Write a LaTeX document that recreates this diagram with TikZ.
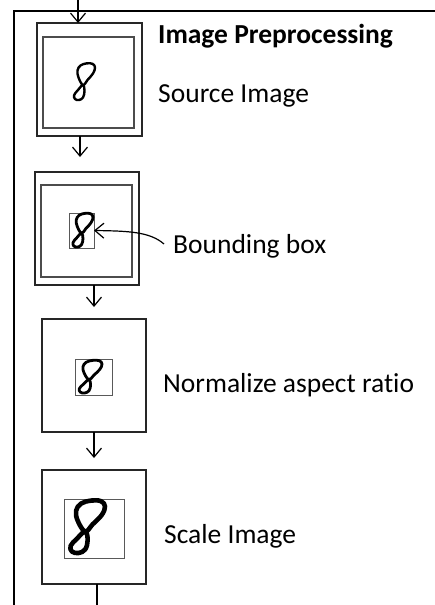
\documentclass[tikz,border=0pt]{standalone}
\usepackage{fontspec}
\setmainfont{Carlito}[Ligatures=NoCommon]
\usetikzlibrary{arrows.meta}
\newcommand\handeight[5]{%
  \begin{scope}[shift={(#1,#2)},xscale=#3/23,yscale=#4/37]
    \draw[line width=#5pt,line cap=round,line join=round]
      plot[smooth cycle,tension=0.65] coordinates {(11,22) (6.5,14.5) (5.5,7.5) (8.5,2.5) (14.5,0.4) (20.5,0.8) (23,4.5) (21,10.5) (15.5,17)};
    \draw[line width=#5pt,line cap=round,line join=round]
      plot[smooth cycle,tension=0.65] coordinates {(11,22) (6,27) (2.2,32) (3,36) (7,37) (11,34.5) (12.5,28)};
  \end{scope}}
\begin{document}
\begin{tikzpicture}[x=1pt,y=-1pt,
  frame/.style={draw=black,line width=1.4pt},
  outerbox/.style={draw=black!85,line width=1.6pt,inner sep=0,outer sep=0},
  innerbox/.style={draw=black!70,line width=1.1pt,inner sep=0,outer sep=0},
  bbox/.style={draw=black!65,line width=0.9pt,inner sep=0,outer sep=0},
  arr/.style={line width=1.2pt,-{Straight Barb[length=9pt,width=15pt,line width=1.2pt]}},
  plain/.style={line width=1.2pt},
  lbl/.style={anchor=base west,inner sep=0,font=\fontsize{27.5}{30}\selectfont}]
\useasboundingbox[fill=white] (0,0) rectangle (435,605);
% outer frame
\draw[frame] (14,605) -- (14,11) -- (435,11);
% boxes
\node[outerbox,minimum width=105pt,minimum height=113pt] (box1) at (89.5,79.5) {};
\node[innerbox,minimum width=91pt,minimum height=91pt] (in1) at (88.5,82.5) {};
\node[outerbox,minimum width=104pt,minimum height=113pt] (box2) at (87,228.5) {};
\node[innerbox,minimum width=91pt,minimum height=92pt] (in2) at (86.5,231) {};
\node[bbox,minimum width=25pt,minimum height=35pt] (bb2) at (81.5,230.5) {};
\node[outerbox,minimum width=104pt,minimum height=113pt] (box3) at (94,375.5) {};
\node[bbox,minimum width=37pt,minimum height=36pt] (bb3) at (93.5,377.5) {};
\node[outerbox,minimum width=104pt,minimum height=114pt] (box4) at (94,527) {};
\node[bbox,minimum width=60pt,minimum height=59pt] (bb4) at (94,528.5) {};
% digits
\handeight{72}{63}{23}{37}{2.4}
\handeight{71}{213}{22}{34}{2.8}
\handeight{77}{360}{25}{33}{2.8}
\handeight{67}{500}{38}{53}{4.6}
% texts
\node[lbl,font=\fontsize{27.5}{30}\selectfont\bfseries] (title) at (158,43) {Image Preprocessing};
\node[lbl] (t1) at (158,102) {Source Image};
\node[lbl] (t2) at (173,253) {Bounding box};
\node[lbl] (t3) at (163,392) {Normalize aspect ratio};
\node[lbl] (t4) at (164,543) {Scale Image};
% connectors
\coordinate (c0) at (78,0);
\coordinate (c1) at (80,157);
\coordinate (c2) at (94,307);
\coordinate (c3) at (94,458);
\coordinate (c4) at (97,605);
\coordinate (bbstart) at (164,244);
\draw[arr] (c0) -- (box1.north -| c0);
\draw[arr] (box1.south -| c1) -- (c1);
\draw[arr] (box2.south -| c2) -- (c2);
\draw[arr] (box3.south -| c3) -- (c3);
\draw[plain] (box4.south -| c4) -- (c4);
\draw[arr] (bbstart) .. controls (150,232) and (130,231) .. (bb2.east);
\end{tikzpicture}
\end{document}
